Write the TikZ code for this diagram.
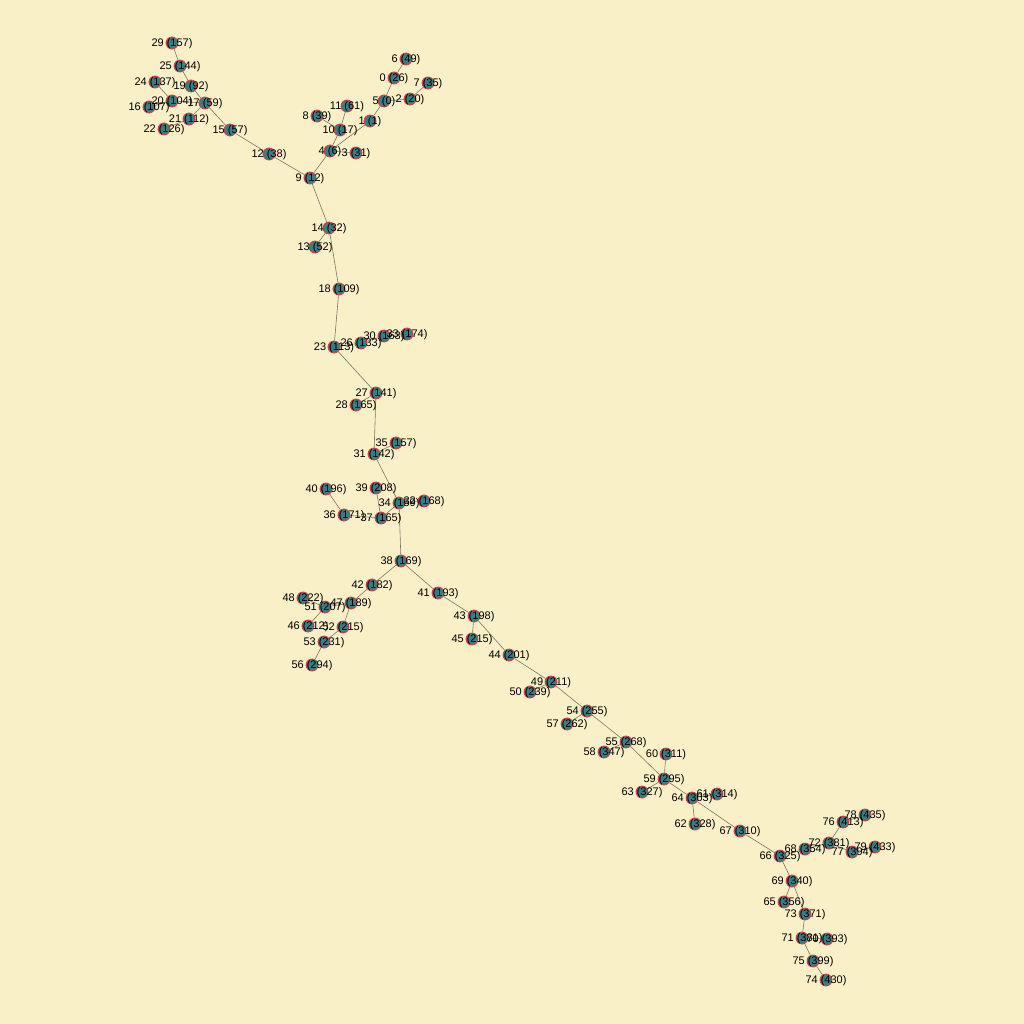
\documentclass[tikz,border=0pt]{standalone}
\usepackage{fontspec}
\setmainfont{Liberation Sans}
\definecolor{paper}{RGB}{250,240,200}
\definecolor{vfill}{RGB}{58,124,134}
\definecolor{vring}{RGB}{225,55,55}
\definecolor{wire}{RGB}{125,118,100}
\tikzset{
  vert/.style={circle,fill=vfill,draw=vring,line width=0.8pt,minimum size=12pt,inner sep=0pt},
  lab/.style={inner sep=0pt,font=\fontsize{11}{13}\selectfont},
  wireline/.style={draw=wire,line width=0.6pt}
}
% id / x / y / distance
\def\vertlist{0/394/78/26, 1/370/121/1, 2/410/99/20, 3/356/153/31, 4/330/151/6,
  5/384/101/0, 6/406/59/49, 7/428/83/35, 8/317/116/39, 9/310/178/12,
  10/340/130/17, 11/347/106/61, 12/269/154/38, 13/315/247/52, 14/329/228/32,
  15/230/130/57, 16/149/107/107, 17/205/103/59, 18/339/289/109, 19/191/86/92,
  20/172/101/104, 21/189/119/112, 22/164/129/126, 23/334/347/113, 24/155/82/137,
  25/180/66/144, 26/361/343/133, 27/376/393/141, 28/356/405/165, 29/172/43/157,
  30/384/336/163, 31/374/454/142, 32/424/501/168, 33/407/334/174, 34/399/503/159,
  35/396/443/157, 36/344/515/171, 37/381/518/165, 38/401/561/169, 39/376/488/208,
  40/326/489/196, 41/438/593/193, 42/372/585/182, 43/474/616/198, 44/509/655/201,
  45/472/639/215, 46/308/626/212, 47/351/603/189, 48/303/598/222, 49/551/682/211,
  50/530/692/239, 51/325/607/207, 52/343/627/215, 53/324/642/231, 54/587/711/255,
  55/626/742/268, 56/312/665/294, 57/567/724/262, 58/604/752/347, 59/664/779/295,
  60/666/754/311, 61/717/794/314, 62/695/824/328, 63/642/792/327, 64/692/798/303,
  65/784/902/356, 66/780/856/325, 67/740/831/310, 68/805/849/354, 69/792/881/340,
  70/827/939/393, 71/802/938/381, 72/829/843/381, 73/805/914/371, 74/826/980/430,
  75/813/961/399, 76/843/822/413, 77/852/852/394, 78/865/815/435, 79/875/847/433}
\begin{document}
\begin{tikzpicture}[x=1pt,y=-1pt]
  \fill[paper] (0,0) rectangle (1024,1024);
  \useasboundingbox (0,0) rectangle (1024,1024);
  % vertices
  \foreach \i/\x/\y/\d in \vertlist
    \node[vert] (n\i) at (\x,\y) {};
  % tree edges
  \foreach \a/\b in {5/0, 0/6, 5/2, 2/7, 5/1, 1/4, 4/10, 10/11, 10/8, 4/3, 4/9,
    9/12, 12/15, 15/17, 17/19, 19/25, 25/29, 17/21, 21/22, 17/20, 20/24, 20/16,
    9/14, 14/13, 14/18, 18/23, 23/26, 26/30, 30/33, 23/27, 27/28, 27/31, 31/35,
    31/34, 34/37, 37/39, 37/36, 36/40, 34/32, 34/38, 38/42, 42/47, 47/51, 51/48,
    51/46, 47/52, 52/53, 53/56, 38/41, 41/43, 43/45, 43/44, 44/49, 49/50, 49/54,
    54/57, 54/55, 55/58, 55/59, 59/60, 59/63, 59/64, 64/61, 64/62, 64/67, 67/66,
    66/68, 68/72, 72/76, 76/78, 72/77, 77/79, 66/69, 69/65, 69/73, 73/71, 71/70,
    71/75, 75/74}
    \draw[wireline] (n\a) -- (n\b);
  % labels
  \foreach \i/\x/\y/\d in \vertlist
    \node[lab] at ([yshift=-0.5pt]n\i) {\i\ (\d)};
\end{tikzpicture}
\end{document}
